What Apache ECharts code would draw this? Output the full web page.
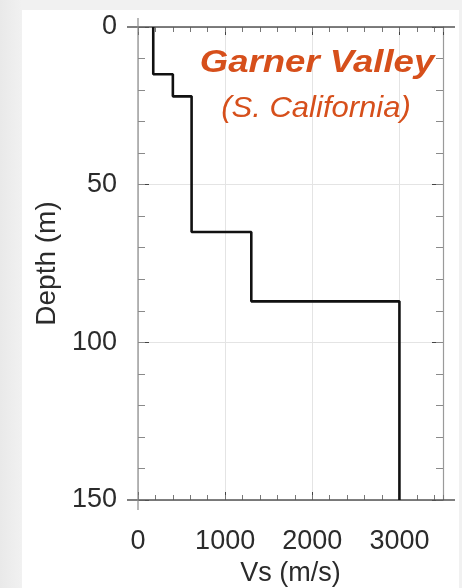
<!DOCTYPE html>
<html>
<head>
<meta charset="utf-8">
<script src="https://cdn.jsdelivr.net/npm/echarts@6/dist/echarts.min.js"></script>
<style>
  html, body { margin: 0; padding: 0; width: 462px; height: 588px; overflow: hidden;
    background: linear-gradient(90deg, #e9e9e9 0px, #f1f1f1 22px, #f1f1f1 100%); }
  #panel { position: absolute; left: 22px; top: 10px; width: 437px; height: 578px; background: #ffffff; }
  #chart { position: absolute; left: 0; top: 0; width: 462px; height: 588px; }
</style>
</head>
<body>
<div id="panel"></div>
<div id="chart"></div>
<script>
// Shear-wave velocity profile, layer by layer
const layerTop    = [0, 15, 22, 65, 87];     // m
const layerBottom = [15, 22, 65, 87, 150];   // m
const layerVs     = [175, 400, 615, 1300, 3000]; // m/s

const xTicks = [0, 1000, 2000, 3000];
const yTicks = [0, 50, 100, 150];

const titleText = 'Garner Valley';
const subtitleText = '(S. California)';

// step profile: each layer contributes its top and bottom point
const profile = [];
layerVs.forEach((v, i) => {
  profile.push([v, layerTop[i]]);
  profile.push([v, layerBottom[i]]);
});

const FONT = '"Liberation Sans", Arial, sans-serif';
const LABEL_COLOR = '#2b2b2b';
const GRID_COLOR = '#e4e4e4';
const TICK_OUT = true; // tick direction flag for the tick-only axes

const chart = echarts.init(document.getElementById('chart'), null, { renderer: 'canvas' });

// plain tick-only axes; major and minor ticks live on separate axes
function xAxisBase(pos, major) {
  return {
    type: 'value', position: pos, min: 0, max: 3500,
    interval: major ? 1000 : 200,
    axisLine: { show: false, onZero: false },
    axisTick: { show: true, inside: TICK_OUT, length: major ? 8 : 5,
      lineStyle: { color: major ? '#444' : '#777', width: 1 } },
    axisLabel: { show: false },
    splitLine: { show: false }
  };
}
function yAxisBase(pos, major) {
  return {
    type: 'value', position: pos, inverse: true, min: 0, max: 150,
    interval: major ? 50 : 10,
    axisLine: { show: false, onZero: false },
    axisTick: { show: true, inside: TICK_OUT, length: major ? 11 : 7,
      lineStyle: { color: major ? '#444' : '#8a8a8a', width: 1 } },
    axisLabel: { show: false },
    splitLine: { show: false }
  };
}

const option = {
  animation: false,
  backgroundColor: 'transparent',
  grid: { left: 138, right: 19, top: 27, bottom: 88, containLabel: false, outerBoundsMode: 'none' },
  xAxis: [
    Object.assign(xAxisBase('bottom', true), {
      name: 'Vs (m/s)', nameLocation: 'middle', nameGap: 58,
      nameTextStyle: { fontFamily: FONT, fontSize: 27, color: LABEL_COLOR },
      axisLabel: { show: true, fontFamily: FONT, fontSize: 27, color: LABEL_COLOR, margin: 28,
        showMaxLabel: false,
        formatter: v => (xTicks.indexOf(v) >= 0 ? String(v) : '') },
      splitLine: { show: true, lineStyle: { color: GRID_COLOR, width: 1 } }
    }),
    xAxisBase('bottom', false),
    xAxisBase('top', true),
    xAxisBase('top', false)
  ],
  yAxis: [
    Object.assign(yAxisBase('left', true), {
      name: 'Depth (m)', nameLocation: 'middle', nameGap: 75, nameRotate: 90,
      nameTextStyle: { fontFamily: FONT, fontSize: 28, color: LABEL_COLOR },
      axisLabel: { show: true, fontFamily: FONT, fontSize: 27, color: LABEL_COLOR, margin: 21,
        formatter: v => (yTicks.indexOf(v) >= 0 ? String(v) : '') },
      splitLine: { show: true, lineStyle: { color: GRID_COLOR, width: 1 } }
    }),
    yAxisBase('left', false),
    Object.assign(yAxisBase('right', true), {
      axisLine: { show: true, onZero: false, lineStyle: { color: '#9a9a9a', width: 1.2 } }
    }),
    yAxisBase('right', false)
  ],
  series: [{
    type: 'line',
    xAxisIndex: 0, yAxisIndex: 0,
    data: profile,
    symbol: 'none',
    lineStyle: { color: '#111', width: 2.6 },
    z: 5
  }]
};
chart.setOption(option);

// frame lines and the site label, placed from the grid's pixel rectangle
const rect = chart.getModel().getComponent('grid').coordinateSystem.getRect();
const L = rect.x, R = rect.x + rect.width, T = rect.y, B = rect.y + rect.height;
chart.setOption({
  graphic: [
    { type: 'line', z: 4, shape: { x1: L - 11, y1: T, x2: R + 12, y2: T },
      style: { stroke: '#555', lineWidth: 1.6 } },
    { type: 'line', z: 4, shape: { x1: L - 11, y1: B, x2: R + 12, y2: B },
      style: { stroke: '#555', lineWidth: 1.6 } },
    { type: 'line', z: 4, shape: { x1: L, y1: T - 9, x2: L, y2: B + 10 },
      style: { stroke: '#8a8a8a', lineWidth: 1.2 } },
    { type: 'text', z: 6, x: 317, y: 63.5, scaleX: 1.18,
      style: { text: titleText, x: 0, y: 0, align: 'center', verticalAlign: 'middle',
        font: 'italic bold 31px ' + FONT, fill: '#d64f1b' } },
    { type: 'text', z: 6, x: 316, y: 108.5, scaleX: 1.07,
      style: { text: subtitleText, x: 0, y: 0, align: 'center', verticalAlign: 'middle',
        font: 'italic 29px ' + FONT, fill: '#d64f1b' } }
  ]
});
</script>
</body>
</html>
